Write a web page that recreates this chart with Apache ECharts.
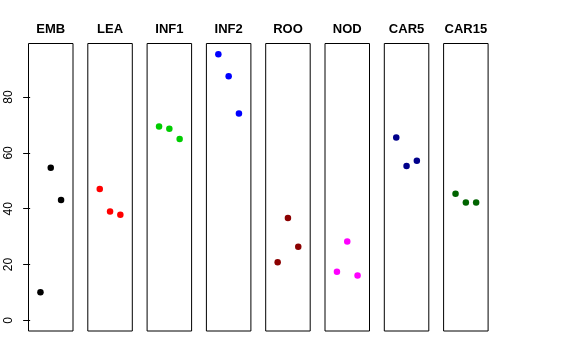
<!DOCTYPE html>
<html>
<head>
<meta charset="utf-8">
<script src="https://cdn.jsdelivr.net/npm/echarts@6/dist/echarts.min.js"></script>
<style>html,body{margin:0;padding:0;background:#fff;}#c{width:576px;height:360px;}</style>
</head>
<body>
<div id="c"></div>
<script>
const panels = ['EMB','LEA','INF1','INF2','ROO','NOD','CAR5','CAR15'];
const colors = ['#000000','#FF0000','#00CD00','#0000FF','#8B0000','#FF00FF','#00008B','#006400'];
const xPositions = [1, 2, 3];
const EMB = [10.1, 54.7, 43.1];
const LEA = [47.1, 39.0, 37.8];
const INF1 = [69.5, 68.7, 65.0];
const INF2 = [95.4, 87.5, 74.1];
const ROO = [20.8, 36.7, 26.4];
const NOD = [17.4, 28.3, 16.1];
const CAR5 = [65.5, 55.3, 57.2];
const CAR15 = [45.4, 42.2, 42.2];
const yTicks = [0, 20, 40, 60, 80];

const values = [EMB, LEA, INF1, INF2, ROO, NOD, CAR5, CAR15];
const allVals = values.flat();
const yMaxData = Math.max(...allVals);
const yMin = 0 - 0.04 * yMaxData;
const yMax = yMaxData + 0.04 * yMaxData;
const xMin = 0 - 0.04 * 4, xMax = 4 + 0.04 * 4;

const chart = echarts.init(document.getElementById('c'), null, {renderer: 'canvas'});
const grids = [], xAxes = [], yAxes = [], series = [], graphics = [];
const L0 = 28.5, step = 59.3, W = 44.5, TOP = 43.5, H = 287.5;
panels.forEach((name, i) => {
  const left = L0 + step * i;
  grids.push({left: left, top: TOP, width: W, height: H, show: true, borderColor: '#000', borderWidth: 1, backgroundColor: 'transparent'});
  xAxes.push({type: 'value', gridIndex: i, min: xMin, max: xMax, show: false});
  yAxes.push({
    type: 'value', gridIndex: i, min: yMin, max: yMax, show: i === 0,
    splitLine: {show: false},
    axisLine: {show: false},
    axisTick: {show: true, length: 7, lineStyle: {color: '#000'}, customValues: yTicks},
    axisLabel: {show: true, rotate: 90, customValues: yTicks, fontFamily: 'Liberation Sans', fontSize: 12, color: '#000', margin: 14}
  });
  series.push({
    type: 'scatter', xAxisIndex: i, yAxisIndex: i, symbol: 'circle', symbolSize: 6.5,
    itemStyle: {color: colors[i], opacity: 1}, silent: true,
    data: xPositions.map((x, k) => [x, values[i][k]])
  });
  graphics.push({type: 'text', x: left + W / 2, y: 29.5, style: {text: name, fontFamily: 'Liberation Sans', fontWeight: 'bold', fontSize: 13, fill: '#000', textAlign: 'center', textVerticalAlign: 'middle'}});
});
chart.setOption({
  animation: false,
  grid: grids, xAxis: xAxes, yAxis: yAxes, series: series, graphic: graphics
});
</script>
</body>
</html>
